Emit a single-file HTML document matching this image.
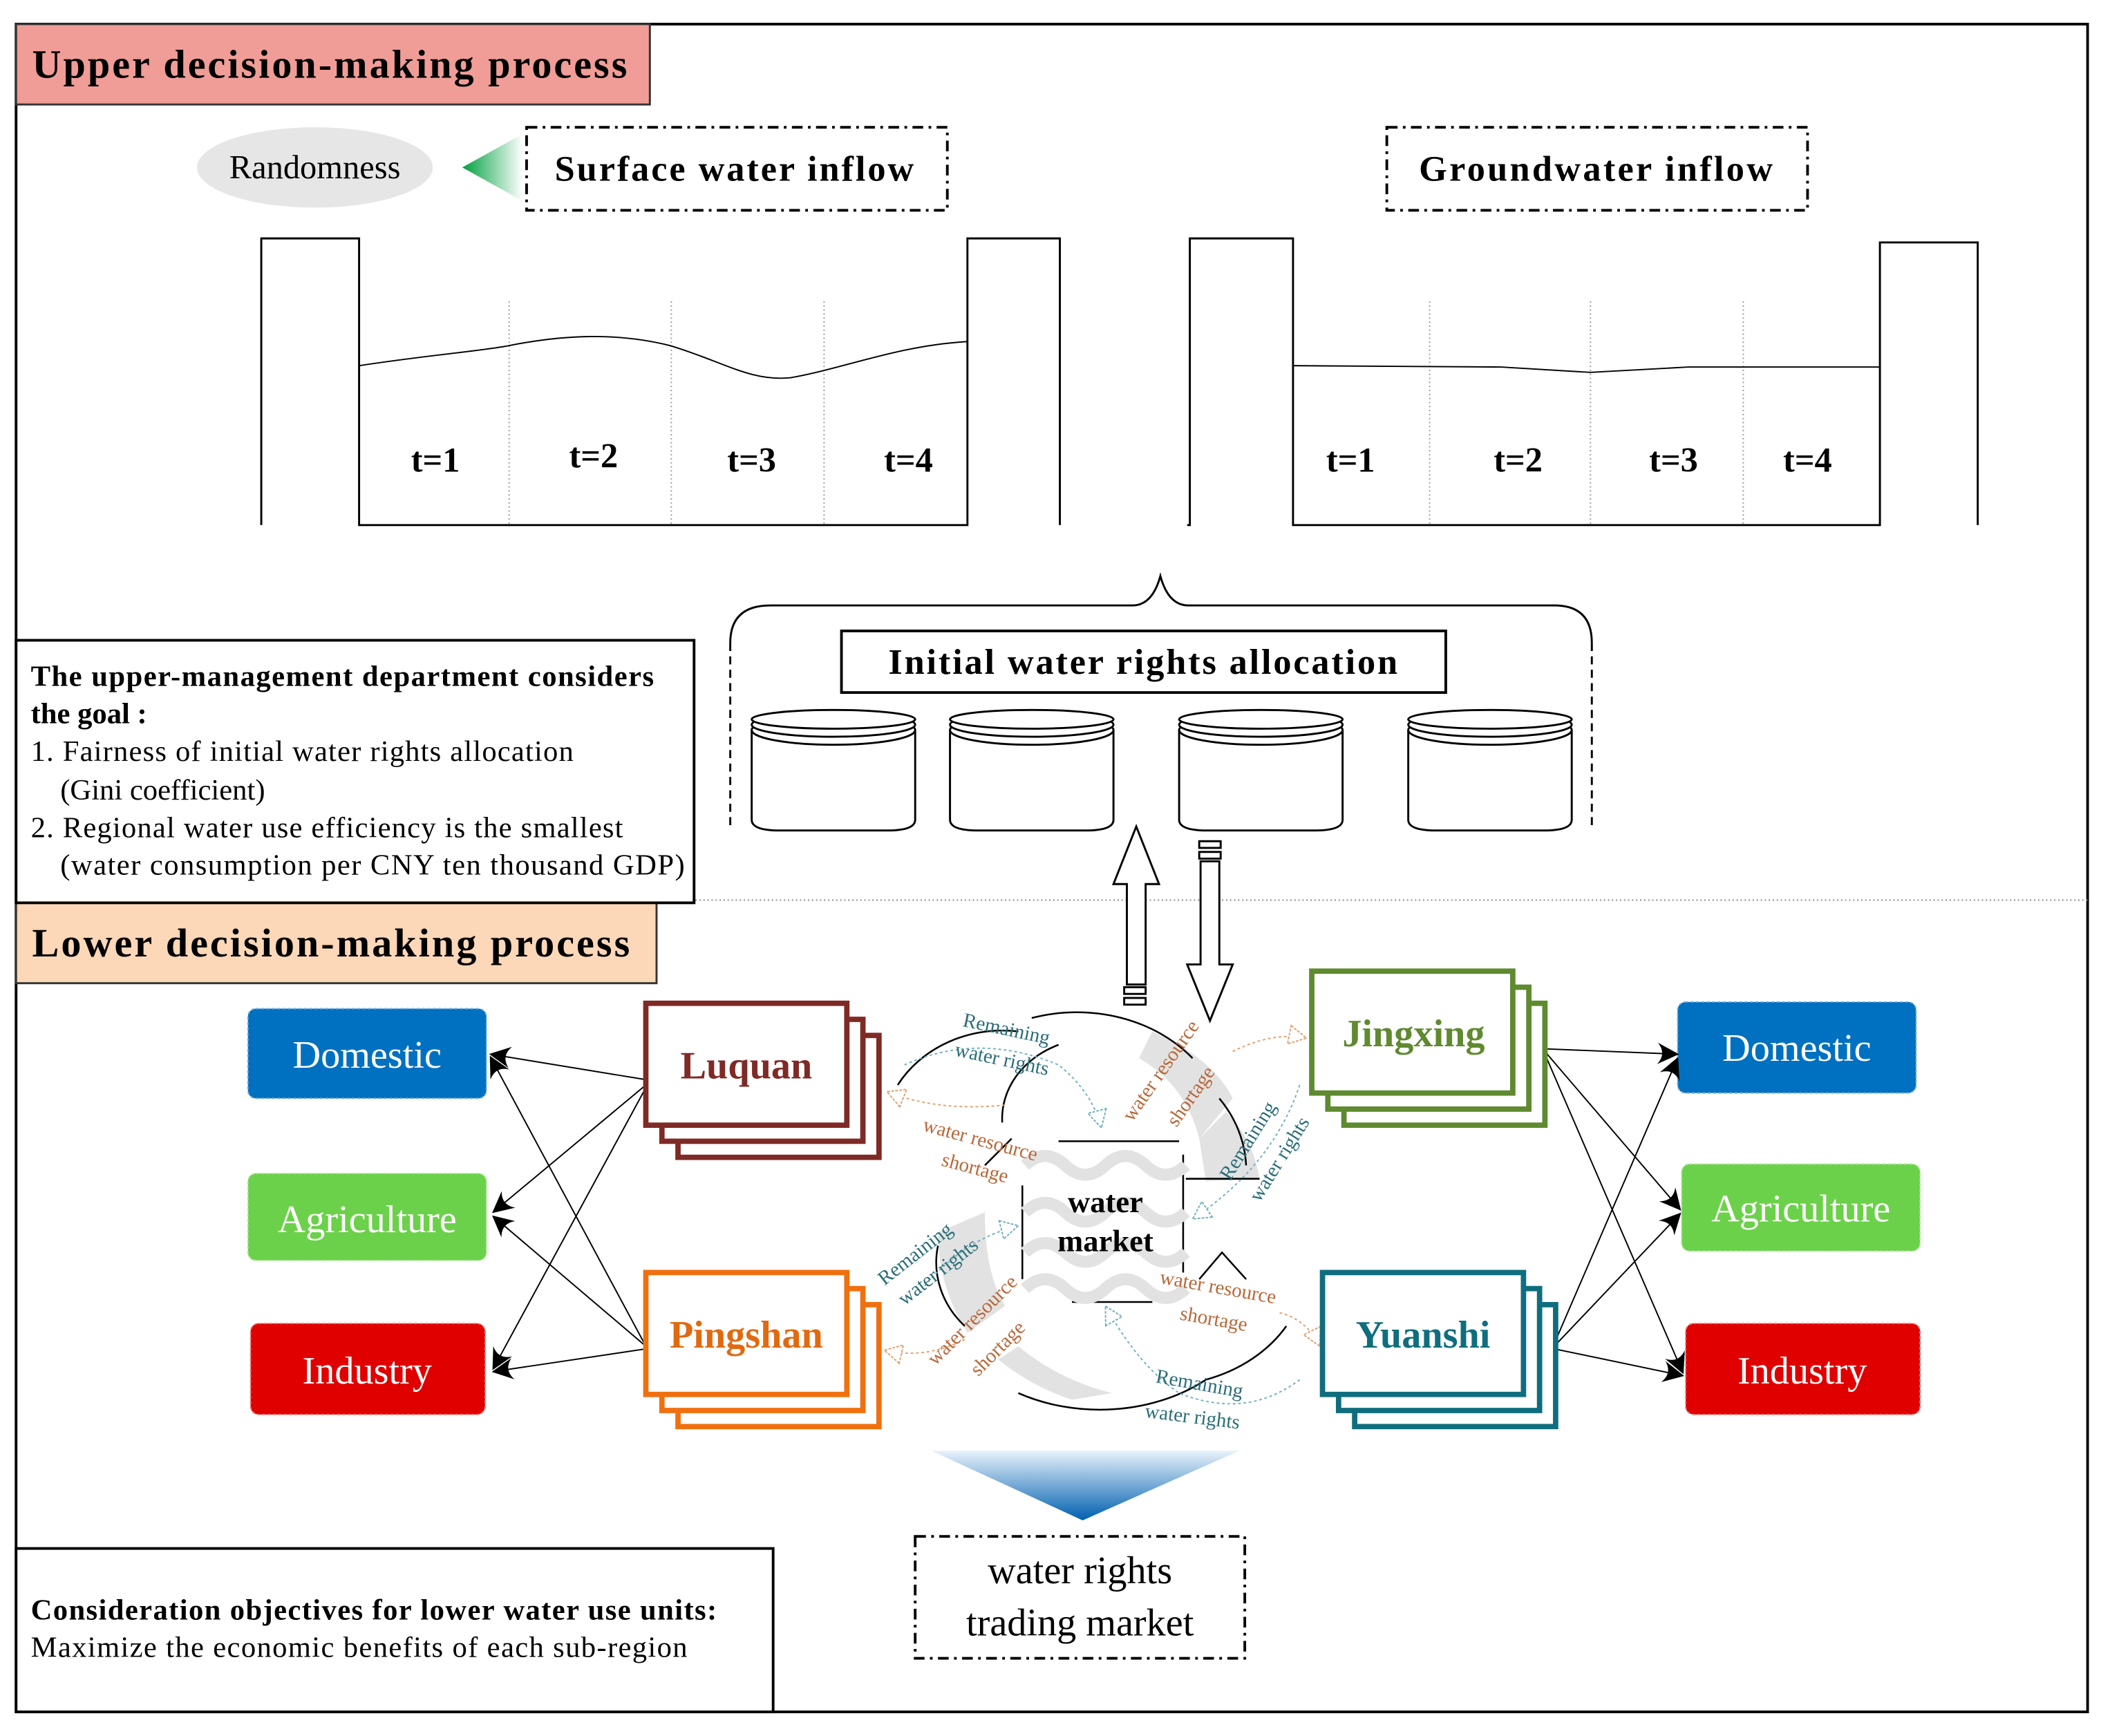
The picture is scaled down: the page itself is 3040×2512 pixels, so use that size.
<!DOCTYPE html>
<html><head><meta charset="utf-8"><style>
html,body{margin:0;padding:0;background:#fff;}
svg{display:block;}
text{font-family:"Liberation Serif",serif;}
</style></head><body>
<svg width="3040" height="2512" viewBox="0 0 1568 1296" preserveAspectRatio="none" xmlns="http://www.w3.org/2000/svg">
<defs>
<linearGradient id="gtri" x1="0" x2="1" y1="0" y2="0"><stop offset="0" stop-color="#00a040"/><stop offset="1" stop-color="#ffffff"/></linearGradient>
<linearGradient id="btri" x1="0" x2="0" y1="0" y2="1"><stop offset="0" stop-color="#e8f2fb"/><stop offset="1" stop-color="#0060b0"/></linearGradient>
<marker id="ah" markerWidth="16" markerHeight="16" refX="15" refY="8" orient="auto" markerUnits="userSpaceOnUse"><path d="M0,0 L16,8 L0,16 Q7,8 0,0Z" fill="#000"/></marker>
<marker id="oh" markerWidth="16" markerHeight="16" refX="14" refY="8" orient="auto" markerUnits="userSpaceOnUse"><path d="M1,1 L14,8 L1,15Z" fill="#fff" stroke="#e0a070" stroke-width="1" stroke-dasharray="2,1"/></marker>
<marker id="th" markerWidth="16" markerHeight="16" refX="14" refY="8" orient="auto" markerUnits="userSpaceOnUse"><path d="M1,1 L14,8 L1,15Z" fill="#fff" stroke="#70b0c0" stroke-width="1" stroke-dasharray="2,1"/></marker>
</defs>
<rect x="12" y="18" width="1546" height="1260" fill="#fff" stroke="#000" stroke-width="2"/>
<rect x="12" y="18" width="473" height="60" fill="#ef9d96" stroke="#333" stroke-width="1.5"/>
<text x="24" y="58" font-size="30" font-weight="bold" textLength="444">Upper decision-making process</text>
<line x1="12" y1="672" x2="1558" y2="672" stroke="#888" stroke-dasharray="1,2"/>
<rect x="12" y="674" width="478" height="60" fill="#fcd7b8" stroke="#333" stroke-width="1.5"/>
<text x="24" y="714" font-size="30" font-weight="bold" textLength="446">Lower decision-making process</text>

<ellipse cx="235" cy="125" rx="88" ry="30" fill="#e6e6e6"/>
<text x="235" y="133" font-size="25" text-anchor="middle">Randomness</text>
<path d="M345,125 L390,100 L390,150Z" fill="url(#gtri)"/>
<rect x="393" y="95" width="314" height="62" fill="none" stroke="#000" stroke-width="2" stroke-dasharray="8,4,2,4"/>
<text x="548" y="135" font-size="27" font-weight="bold" text-anchor="middle" textLength="268">Surface water inflow</text>
<rect x="1035" y="95" width="314" height="62" fill="none" stroke="#000" stroke-width="2" stroke-dasharray="8,4,2,4"/>
<text x="1191" y="135" font-size="27" font-weight="bold" text-anchor="middle" textLength="264">Groundwater inflow</text>

<g fill="none" stroke="#000" stroke-width="1.5">
<path d="M195,392 V178 H268 V392 H722 V178 H791 V392"/>
<path d="M886,392 H888 V178 H965 V392 H1403 V181 H1476 V392"/>
</g>
<g stroke="#999" stroke-dasharray="1,2">
<line x1="380" y1="225" x2="380" y2="392"/><line x1="501" y1="225" x2="501" y2="392"/><line x1="615" y1="225" x2="615" y2="392"/>
<line x1="1067" y1="225" x2="1067" y2="392"/><line x1="1187" y1="225" x2="1187" y2="392"/><line x1="1301" y1="225" x2="1301" y2="392"/>
</g>
<path d="M268,273 C320,265 360,262 380,258 C420,250 460,248 500,258 C540,270 560,285 590,282 C630,275 670,258 722,255" fill="none" stroke="#000"/>
<path d="M965,273 L1120,274 L1187,278 L1260,274 L1403,274" fill="none" stroke="#000"/>
<g font-size="26" font-weight="bold" text-anchor="middle">
<text x="325" y="352">t=1</text><text x="443" y="349">t=2</text><text x="561" y="352">t=3</text><text x="678" y="352">t=4</text>
<text x="1008" y="352">t=1</text><text x="1133" y="352">t=2</text><text x="1249" y="352">t=3</text><text x="1349" y="352">t=4</text>
</g>

<path d="M545,480 Q545,452 575,452 H845 Q860,452 866,430 Q872,452 887,452 H1160 Q1188,452 1188,480" fill="none" stroke="#000" stroke-width="1.5"/>
<path d="M545,480 V620 M1188,480 V620" stroke="#000" stroke-width="1.5" stroke-dasharray="6,4"/>
<rect x="628" y="471" width="451" height="46" fill="#fff" stroke="#000" stroke-width="2"/>
<text x="853" y="503" font-size="27" font-weight="bold" text-anchor="middle" textLength="380">Initial water rights allocation</text>
<g fill="#fff" stroke="#000" stroke-width="1.5">
<g transform="translate(622,0)"><path d="M-61,545 V612 Q-61,620 -40,620 H40 Q61,620 61,612 V545"/><ellipse cx="0" cy="545" rx="61" ry="11"/><ellipse cx="0" cy="541" rx="61" ry="9"/><ellipse cx="0" cy="537" rx="61" ry="7"/></g>
<g transform="translate(770,0)"><path d="M-61,545 V612 Q-61,620 -40,620 H40 Q61,620 61,612 V545"/><ellipse cx="0" cy="545" rx="61" ry="11"/><ellipse cx="0" cy="541" rx="61" ry="9"/><ellipse cx="0" cy="537" rx="61" ry="7"/></g>
<g transform="translate(941,0)"><path d="M-61,545 V612 Q-61,620 -40,620 H40 Q61,620 61,612 V545"/><ellipse cx="0" cy="545" rx="61" ry="11"/><ellipse cx="0" cy="541" rx="61" ry="9"/><ellipse cx="0" cy="537" rx="61" ry="7"/></g>
<g transform="translate(1112,0)"><path d="M-61,545 V612 Q-61,620 -40,620 H40 Q61,620 61,612 V545"/><ellipse cx="0" cy="545" rx="61" ry="11"/><ellipse cx="0" cy="541" rx="61" ry="9"/><ellipse cx="0" cy="537" rx="61" ry="7"/></g>
</g>

<rect x="12" y="478" width="506" height="196" fill="#fff" stroke="#000" stroke-width="2"/>
<g font-size="22">
<text x="23" y="512" font-weight="bold" textLength="465">The upper-management department considers</text>
<text x="23" y="540" font-weight="bold">the goal :</text>
<text x="23" y="568" textLength="405">1. Fairness of initial water rights allocation</text>
<text x="45" y="597">(Gini coefficient)</text>
<text x="23" y="625" textLength="442">2. Regional water use efficiency is the smallest</text>
<text x="45" y="653" textLength="466">(water consumption per CNY ten thousand GDP)</text>
</g>

<g fill="#fff" stroke="#000" stroke-width="1.5">
<path d="M841,735 V660 H831 L848,617 L865,660 H855 V735Z"/>
<rect x="839" y="737" width="16" height="5"/><rect x="839" y="745" width="16" height="5"/>
<rect x="895" y="628" width="16" height="5"/><rect x="895" y="636" width="16" height="5"/>
<path d="M896,643 V720 H886 L903,762 L920,720 H910 V643Z"/>
</g>

<!-- water market center -->
<g fill="#e2e2e2">
<path d="M860,770 Q905,790 920,820 L895,850 Q885,810 850,790Z"/>
<path d="M915,830 Q935,850 940,880 L900,882 L895,850Z"/>
<path d="M700,920 L735,905 Q735,950 750,975 L722,995 Q700,960 700,920Z"/>
<path d="M760,1005 Q790,1030 830,1040 L800,1045 Q770,1035 745,1015Z"/>
</g>
<g fill="none" stroke="#000" stroke-width="1.3">
<path d="M770,760 A110,90 0 0 1 890,790"/>
<path d="M670,810 A90,80 0 0 1 760,770"/>
<path d="M735,870 L755,850 M748,838 A70,60 0 0 1 790,780"/>
<path d="M910,820 A100,90 0 0 1 930,870 M885,880 H940"/>
<path d="M700,930 A80,70 0 0 0 720,990"/>
<path d="M760,1040 A120,90 0 0 0 900,1030"/>
<path d="M900,1030 A110,90 0 0 0 960,990 M895,955 L912,935 L930,955"/>
<line x1="790" y1="852" x2="880" y2="852"/><line x1="800" y1="972" x2="860" y2="972"/>
<line x1="763" y1="885" x2="763" y2="955"/><line x1="883" y1="862" x2="883" y2="950"/>
</g>
<g fill="none" stroke="#e2e2e2" stroke-width="9">
<path d="M765,870 q15,-14 30,0 t30,0 t30,0 t30,0"/>
<path d="M765,905 q15,-14 30,0 t30,0 t30,0 t30,0"/>
<path d="M765,935 q15,-14 30,0 t30,0 t30,0 t30,0"/>
<path d="M765,962 q15,-14 30,0 t30,0 t30,0 t30,0"/>
</g>
<text x="825" y="905" font-size="23" font-weight="bold" text-anchor="middle">water</text>
<text x="825" y="934" font-size="23" font-weight="bold" text-anchor="middle">market</text>

<g fill="none" stroke-width="1" stroke-dasharray="2,2">
<path d="M675,795 Q730,770 790,795 Q815,815 822,842" stroke="#70b0c0" marker-end="url(#th)"/>
<path d="M750,825 Q700,830 662,815" stroke="#e0a070" marker-end="url(#oh)"/>
<path d="M920,785 Q950,770 975,775" stroke="#e0a070" marker-end="url(#oh)"/>
<path d="M970,810 Q950,870 890,910" stroke="#70b0c0" marker-end="url(#th)"/>
<path d="M690,960 Q720,925 760,915" stroke="#70b0c0" marker-end="url(#th)"/>
<path d="M720,1000 Q690,1015 660,1008" stroke="#e0a070" marker-end="url(#oh)"/>
<path d="M955,980 Q975,985 985,1005" stroke="#e0a070" marker-end="url(#oh)"/>
<path d="M970,1030 Q930,1060 880,1040 Q850,1020 825,975" stroke="#70b0c0" marker-end="url(#th)"/>
</g>
<g font-size="15">
<text transform="translate(718,766) rotate(12)" fill="#2a6e78">Remaining</text>
<text transform="translate(712,788) rotate(12)" fill="#2a6e78">water rights</text>
<text transform="translate(688,844) rotate(15)" fill="#b8683a">water resource</text>
<text transform="translate(702,870) rotate(15)" fill="#b8683a">shortage</text>
<text transform="translate(845,838) rotate(-55)" fill="#b8683a">water resource</text>
<text transform="translate(878,842) rotate(-55)" fill="#b8683a">shortage</text>
<text transform="translate(918,882) rotate(-58)" fill="#2a6e78">Remaining</text>
<text transform="translate(940,898) rotate(-58)" fill="#2a6e78">water rights</text>
<text transform="translate(660,960) rotate(-38)" fill="#2a6e78">Remaining</text>
<text transform="translate(675,975) rotate(-38)" fill="#2a6e78">water rights</text>
<text transform="translate(698,1020) rotate(-45)" fill="#b8683a">water resource</text>
<text transform="translate(730,1028) rotate(-45)" fill="#b8683a">shortage</text>
<text transform="translate(865,958) rotate(10)" fill="#b8683a">water resource</text>
<text transform="translate(880,985) rotate(10)" fill="#b8683a">shortage</text>
<text transform="translate(862,1032) rotate(10)" fill="#2a6e78">Remaining</text>
<text transform="translate(854,1058) rotate(7)" fill="#2a6e78">water rights</text>
</g>

<g font-size="29" text-anchor="middle">
<rect x="185" y="753" width="178" height="67" rx="6" fill="#0070c0" stroke="#7ab0e0" stroke-dasharray="2,2"/>
<text x="274" y="797" fill="#fff">Domestic</text>
<rect x="185" y="876" width="178" height="65" rx="6" fill="#6cd14a" stroke="#b0e8a0" stroke-dasharray="2,2"/>
<text x="274" y="920" fill="#fff">Agriculture</text>
<rect x="187" y="988" width="175" height="68" rx="6" fill="#e00000" stroke="#f08080" stroke-dasharray="2,2"/>
<text x="274" y="1033" fill="#fff">Industry</text>
<rect x="1252" y="748" width="178" height="68" rx="6" fill="#0070c0" stroke="#7ab0e0" stroke-dasharray="2,2"/>
<text x="1341" y="792" fill="#fff">Domestic</text>
<rect x="1255" y="869" width="178" height="65" rx="6" fill="#6cd14a" stroke="#b0e8a0" stroke-dasharray="2,2"/>
<text x="1344" y="912" fill="#fff">Agriculture</text>
<rect x="1258" y="988" width="175" height="68" rx="6" fill="#e00000" stroke="#f08080" stroke-dasharray="2,2"/>
<text x="1345" y="1033" fill="#fff">Industry</text>
</g>

<g stroke="#000" stroke-width="1" marker-end="url(#ah)">
<line x1="482" y1="806" x2="366" y2="787"/><line x1="482" y1="810" x2="368" y2="905"/><line x1="482" y1="812" x2="368" y2="1022"/>
<line x1="482" y1="1005" x2="366" y2="789"/><line x1="482" y1="1005" x2="368" y2="908"/><line x1="482" y1="1007" x2="368" y2="1024"/>
<line x1="1153" y1="783" x2="1252" y2="787"/><line x1="1153" y1="785" x2="1254" y2="903"/><line x1="1153" y1="787" x2="1256" y2="1025"/>
<line x1="1160" y1="1003" x2="1252" y2="790"/><line x1="1160" y1="1005" x2="1254" y2="906"/><line x1="1160" y1="1007" x2="1256" y2="1027"/>
</g>

<g fill="#fff" stroke-width="4">
<g stroke="#7f2a25"><rect x="506" y="773" width="150" height="91"/><rect x="494" y="761" width="150" height="91"/><rect x="482" y="749" width="150" height="91"/></g>
<g stroke="#f07010"><rect x="506" y="974" width="150" height="91"/><rect x="494" y="962" width="150" height="91"/><rect x="482" y="950" width="150" height="91"/></g>
<g stroke="#5f8a30"><rect x="1003" y="749" width="150" height="91"/><rect x="991" y="737" width="150" height="91"/><rect x="979" y="725" width="150" height="91"/></g>
<g stroke="#0f6e7e"><rect x="1011" y="974" width="150" height="91"/><rect x="999" y="962" width="150" height="91"/><rect x="987" y="950" width="150" height="91"/></g>
</g>
<g font-size="29" font-weight="bold" text-anchor="middle">
<text x="557" y="805" fill="#7f2a25">Luquan</text>
<text x="557" y="1006" fill="#e06a10">Pingshan</text>
<text x="1055" y="781" fill="#5f8a30">Jingxing</text>
<text x="1062" y="1006" fill="#0f6e7e">Yuanshi</text>
</g>

<path d="M695,1083 L925,1083 L808,1135Z" fill="url(#btri)"/>
<rect x="683" y="1147" width="246" height="91" fill="none" stroke="#000" stroke-width="2" stroke-dasharray="8,4,2,4"/>
<text x="806" y="1182" font-size="29" text-anchor="middle">water rights</text>
<text x="806" y="1221" font-size="29" text-anchor="middle">trading market</text>

<rect x="12" y="1156" width="565" height="122" fill="#fff" stroke="#000" stroke-width="2"/>
<text x="23" y="1209" font-size="22" font-weight="bold" textLength="512">Consideration objectives for lower water use units:</text>
<text x="23" y="1237" font-size="22" textLength="490">Maximize the economic benefits of each sub-region</text>
</svg>
</body></html>
